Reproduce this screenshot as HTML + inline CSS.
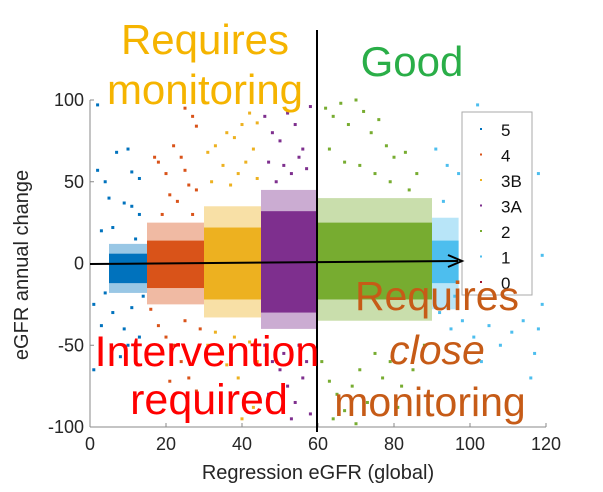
<!DOCTYPE html>
<html><head><meta charset="utf-8"><style>
html,body{margin:0;padding:0;background:#fff;}
svg{display:block;font-family:"Liberation Sans",sans-serif;}
</style></head><body>
<svg id="chart" width="603" height="492">
<g id="marks"></g>
<g id="axes"></g>
</svg>
<script>
const categories = ["5","4","3B","3A","2","1","0"];
const colors = ["#0072BD","#D95319","#EDB120","#7E2F8E","#77AC30","#4DBEEE","#A2142F"];
const bandXMin = [5,15,30,45,60,90,0];
const bandXMax = [15,30,45,60,90,97,0];
const bandYLow = [-12,-15,-22,-30,-22,-12,0];
const bandYHigh = [6,14,22,32,25,14,0];
const haloYLow = [-18,-25,-33,-40,-35,-28,0];
const haloYHigh = [12,25,35,45,40,28,0];
const out5 = [[2,97],[2,57],[4,50],[7,68],[10,70],[11,56],[13,52],[5,40],[9,37],[11,35],[13,30],[3,20],[6,22],[12,15],[1,-25],[3,-38],[6,-30],[9,-40],[11,-27],[13,-45],[1,-65],[8,-57],[14,-20],[4,-18],[10,-50]];
const out4 = [[17,65],[18,62],[20,55],[22,72],[24,65],[25,57],[26,48],[28,45],[21,42],[23,38],[27,30],[19,30],[25,95],[27,90],[28,84],[18,-38],[20,-45],[22,-50],[24,-60],[26,-70],[28,-78],[21,-72],[25,-35],[29,-40],[16,-28]];
const out3B = [[31,68],[33,72],[36,80],[38,77],[40,85],[42,92],[44,86],[35,60],[39,55],[41,62],[43,70],[32,50],[37,48],[44,52],[31,-50],[34,-55],[36,-62],[39,-70],[41,-80],[43,-88],[38,-45],[44,-60],[33,-42],[40,-95],[42,-48]];
const out3A = [[46,90],[48,80],[50,75],[52,92],[54,85],[56,70],[58,96],[47,62],[51,60],[53,55],[55,65],[57,58],[49,50],[46,-50],[48,-60],[50,-65],[52,-75],[54,-85],[56,-70],[58,-92],[47,-80],[51,-55],[55,-50],[57,-60],[53,-95]];
const out2 = [[62,95],[64,90],[66,98],[68,85],[70,100],[72,93],[74,80],[76,88],[78,72],[80,65],[83,68],[86,55],[63,70],[67,62],[71,60],[75,55],[79,50],[84,45],[61,-60],[63,-72],[65,-80],[67,-90],[69,-75],[71,-65],[73,-85],[75,-55],[77,-70],[79,-60],[82,-75],[85,-65],[88,-50],[64,-95],[70,-98],[81,-88]];
const out1 = [[91,70],[94,60],[97,55],[100,52],[102,97],[104,40],[106,35],[108,25],[110,30],[112,20],[115,10],[118,55],[119,5],[92,-30],[95,-40],[98,-35],[101,-45],[105,-38],[108,-50],[111,-42],[114,-35],[117,-55],[119,-25],[103,-60],[96,-20],[99,25],[93,38],[116,-70],[118,-40]];
const outliers = [out5,out4,out3B,out3A,out2,out1,[]];
const xTicks = [0,20,40,60,80,100,120];
const yTicks = [100,50,0,-50,-100];

const NS="http://www.w3.org/2000/svg";
const X0=90, X1=546, Y0=100, Y1=427;
function sx(v){return X0+(v/120)*(X1-X0);}
function sy(v){return Y0+(100-v)/200*(Y1-Y0);}
function mk(tag,attrs,parent){const e=document.createElementNS(NS,tag);for(const k in attrs)e.setAttribute(k,attrs[k]);parent.appendChild(e);return e;}
const marks=document.getElementById('marks');
const axes=document.getElementById('axes');
const svg=document.getElementById('chart');

let l=mk('line',{x1:X0,y1:Y0,x2:X0,y2:Y1,stroke:'#888','stroke-width':1},axes);


l=mk('line',{x1:X0,y1:Y1,x2:X1,y2:Y1,stroke:'#888','stroke-width':1},axes);


xTicks.forEach(t=>{
  mk('line',{x1:sx(t),y1:Y1,x2:sx(t),y2:Y1-4,stroke:'#888'},axes);
  const tx=mk('text',{x:sx(t),y:Y1+23,'text-anchor':'middle','font-size':18,fill:'#262626'},axes);
  tx.textContent=t;
  
  
});
yTicks.forEach(t=>{
  mk('line',{x1:X0,y1:sy(t),x2:X0+4,y2:sy(t),stroke:'#888'},axes);
  const tx=mk('text',{x:X0-6,y:sy(t)+6,'text-anchor':'end','font-size':18,fill:'#262626'},axes);
  tx.textContent=t;
  
  
});
let t=mk('text',{x:318,y:479,'text-anchor':'middle','font-size':20,fill:'#262626'},axes);
t.textContent='Regression eGFR (global)';


t=mk('text',{x:0,y:0,'text-anchor':'middle','font-size':20,fill:'#262626',transform:'translate(28,265) rotate(-90)'},axes);
t.textContent='eGFR annual change';



categories.forEach((c,i)=>{
  if(bandXMax[i]>bandXMin[i]){
    const h=mk('rect',{x:sx(bandXMin[i]),y:sy(haloYHigh[i]),width:sx(bandXMax[i])-sx(bandXMin[i]),height:sy(haloYLow[i])-sy(haloYHigh[i]),fill:colors[i],opacity:0.4},marks);
    
    
    const r=mk('rect',{x:sx(bandXMin[i]),y:sy(bandYHigh[i]),width:sx(bandXMax[i])-sx(bandXMin[i]),height:sy(bandYLow[i])-sy(bandYHigh[i]),fill:colors[i]},marks);
    
    
  }
  outliers[i].forEach(p=>{
    const d=mk('rect',{x:sx(p[0])-1.5,y:sy(p[1])-1.5,width:3,height:3,fill:colors[i]},marks);
    
    
  });
});

const lg=mk('g',{},svg);


mk('rect',{x:462,y:112,width:70,height:183,fill:'#fff',stroke:'#aaa'},lg);
categories.forEach((c,i)=>{
  const y=129+i*25.5;
  mk('rect',{x:480,y:y-1,width:2,height:2,fill:colors[i]},lg);
  const e=mk('text',{x:501,y:y+7,'font-size':17,fill:'#111'},lg);
  e.textContent=c;
  
  
});

l=mk('line',{x1:317,y1:30,x2:317,y2:432,stroke:'#000','stroke-width':2},svg);


l=mk('line',{x1:90,y1:264,x2:458,y2:261,stroke:'#000','stroke-width':2},svg);


mk('path',{d:'M448,255 L462,261 L448,267',fill:'none',stroke:'#000','stroke-width':2},svg);

function ann(txt,x,y,col,name,size,italic){
  const e=mk('text',{x:x,y:y,'text-anchor':'middle','font-size':size,fill:col,'font-style':italic?'italic':'normal'},svg);
  e.textContent=txt;
  
  
}
ann('Requires',205,54,'#F5B400','label-requires-monitoring-1',42);
ann('monitoring',205,104,'#F5B400','label-requires-monitoring-2',42);
ann('Good',412,76,'#2AAE48','label-good',42);
ann('Intervention',207,366,'#FF0000','label-intervention-1',43);
ann('required',209,414,'#FF0000','label-intervention-2',43);
ann('Requires',437,310,'#C65B17','label-close-1',41);
ann('close',437,364,'#C65B17','label-close-2',41,true);
ann('monitoring',430,416,'#C65B17','label-close-3',41);
</script>
</body></html>
